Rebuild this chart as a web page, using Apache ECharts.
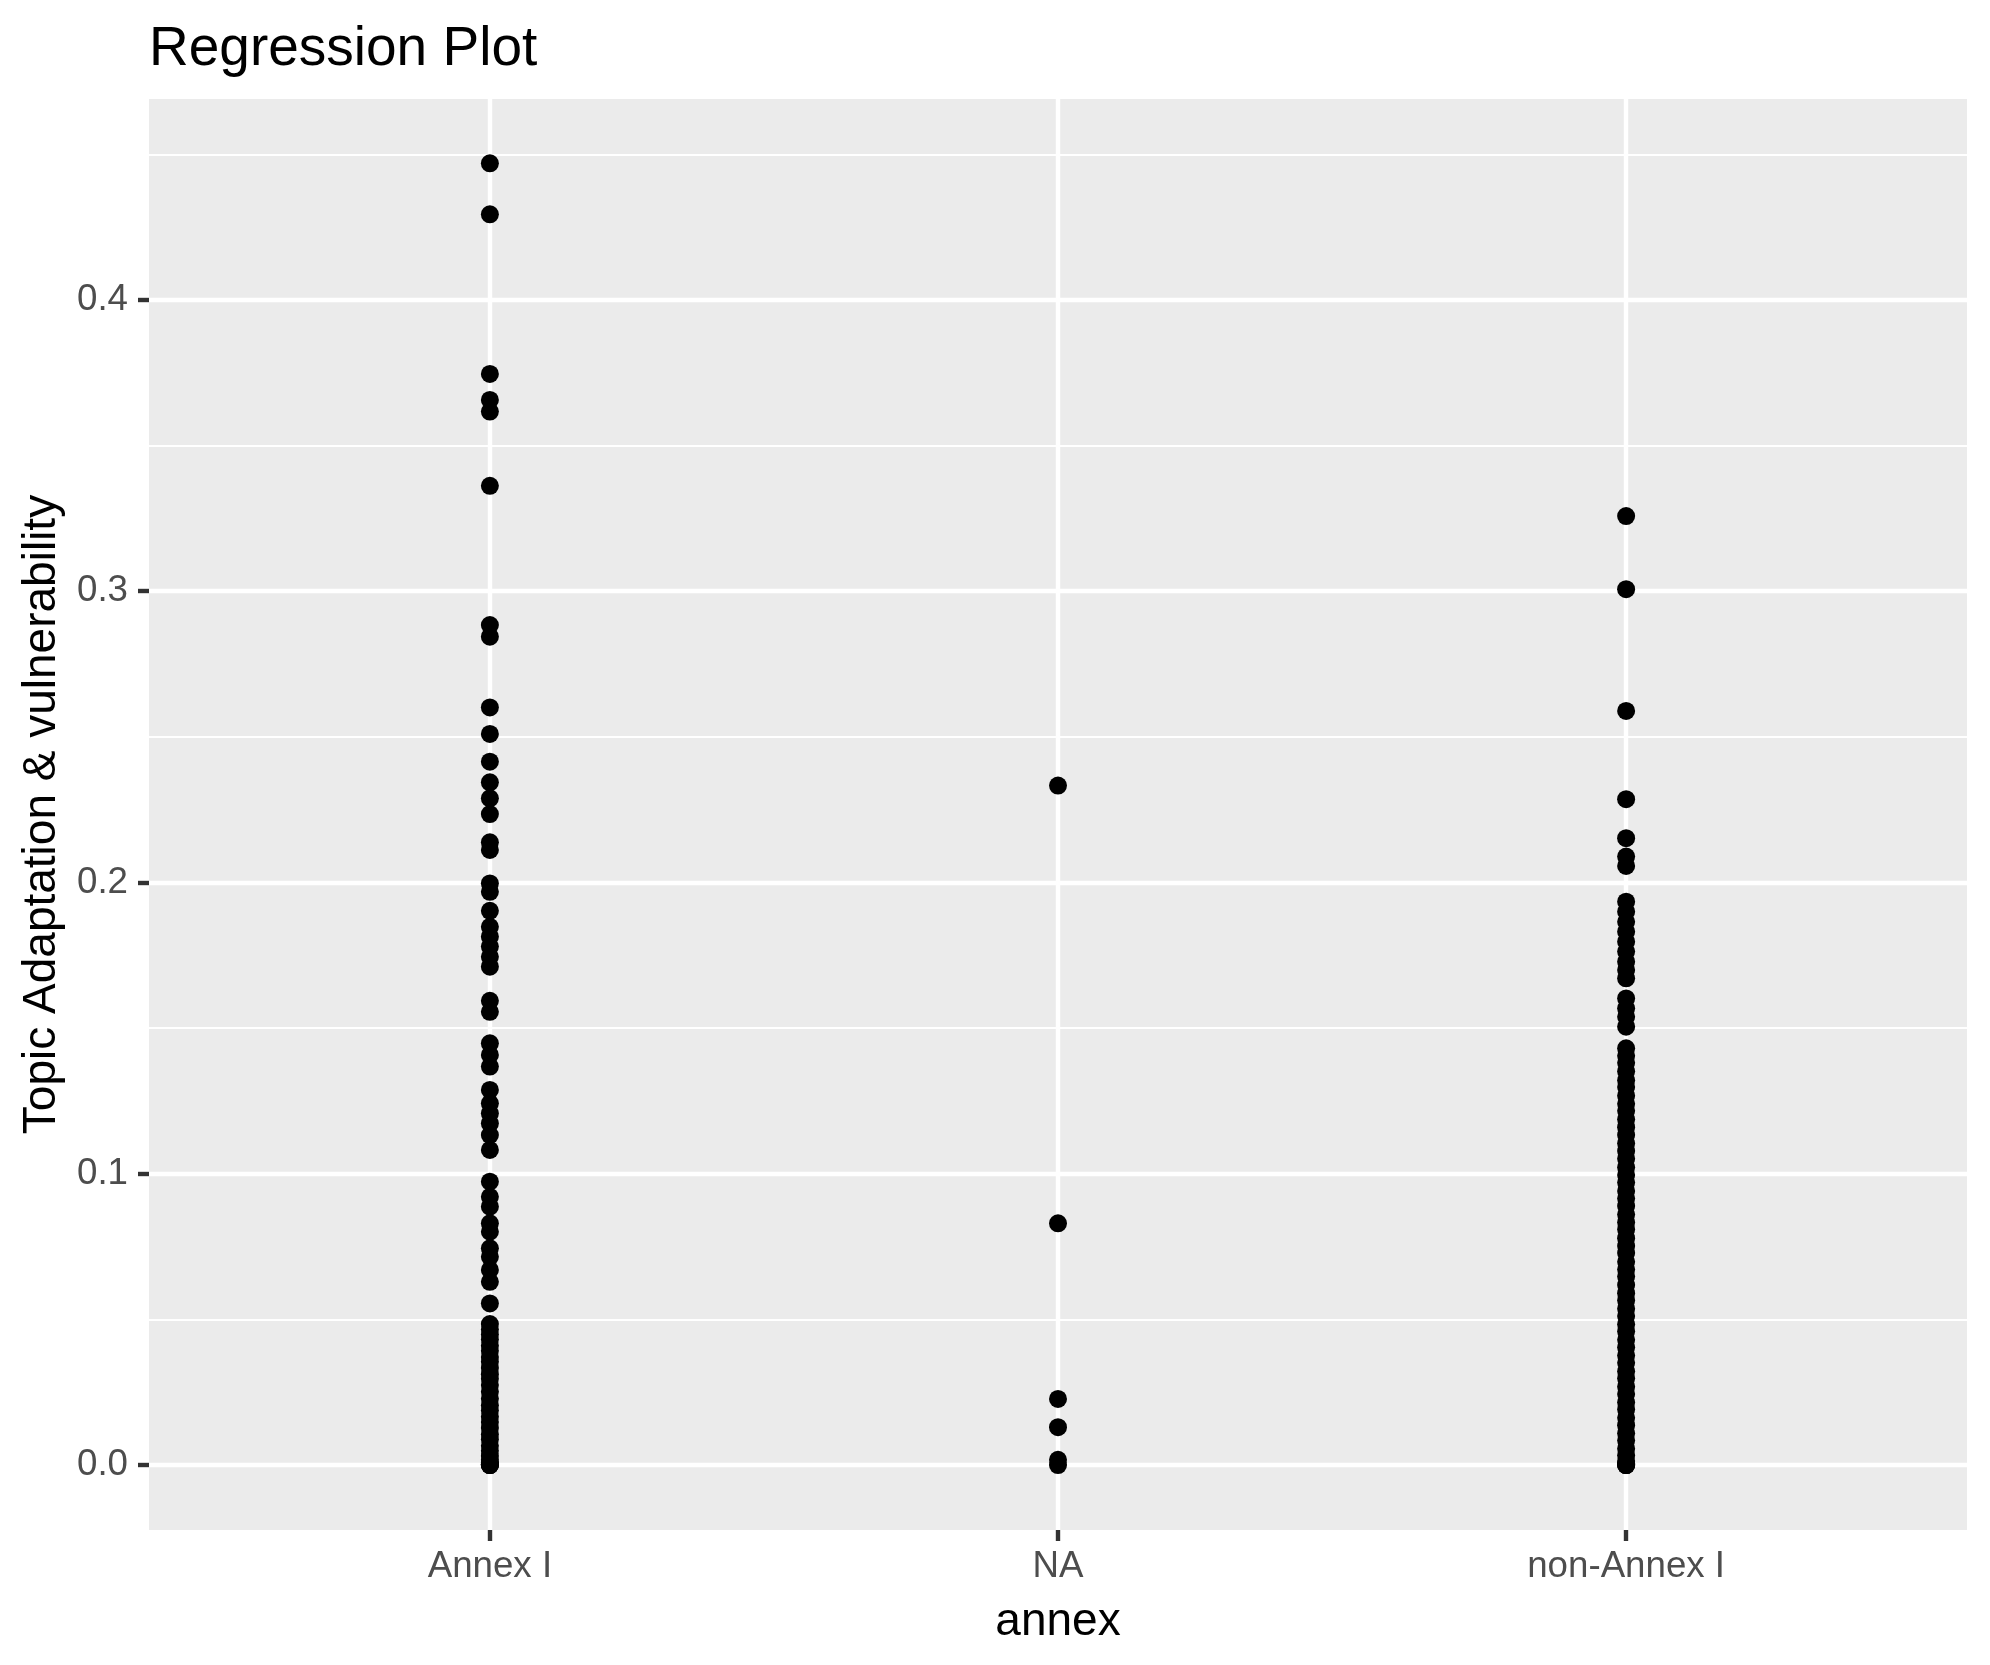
<!DOCTYPE html>
<html>
<head>
<meta charset="utf-8">
<script src="https://cdn.jsdelivr.net/npm/echarts@6/dist/echarts.min.js"></script>
<style>
html,body{margin:0;padding:0;background:#fff;}
#chart{width:1990px;height:1665px;}
</style>
</head>
<body>
<div id="chart"></div>
<script>
// ---- data ----
const categories = ['Annex I', 'NA', 'non-Annex I'];
const yTicks = [0, 0.1, 0.2, 0.3, 0.4];
const yMinorTicks = [0.05, 0.15, 0.25, 0.35, 0.45];
const annexI = [
  0.4469, 0.4294, 0.3746, 0.3657, 0.3617, 0.3362, 0.2884, 0.2844, 0.2601, 0.2510,
  0.2415, 0.2344, 0.2289, 0.2235, 0.2138, 0.2112, 0.1997, 0.1968, 0.1903, 0.1848,
  0.1814, 0.1780, 0.1745, 0.1711, 0.1594, 0.1556, 0.1448, 0.1408, 0.1368, 0.1288,
  0.1242, 0.1207, 0.1173, 0.1133, 0.1082, 0.0973, 0.0921, 0.0887, 0.0830, 0.0801,
  0.0744, 0.0715, 0.0670, 0.0629, 0.0555, 0.0484, 0.0465, 0.0448, 0.0431, 0.0410,
  0.0392, 0.0371, 0.0355, 0.0333, 0.0312, 0.0296, 0.0275, 0.0252, 0.0228, 0.0205,
  0.0187, 0.0166, 0.0148, 0.0127, 0.0105, 0.0088, 0.0066, 0.0049, 0.0031, 0.0018,
  0.0008, 0.0003, 0, 0, 0
];
const naValues = [0.2333, 0.0830, 0.0227, 0.0130, 0.0018, 0];
const nonAnnexI = [
  0.3258, 0.3007, 0.2589, 0.2286, 0.2152, 0.2089, 0.2057, 0.1934, 0.1900, 0.1865,
  0.1831, 0.1797, 0.1763, 0.1728, 0.1700, 0.1671, 0.1602, 0.1568, 0.1539, 0.1505,
  0.1431, 0.1405, 0.1381, 0.1352, 0.1321, 0.1298, 0.1268, 0.1240, 0.1216, 0.1187,
  0.1160, 0.1133, 0.1104, 0.1078, 0.1052, 0.1022, 0.0996, 0.0970, 0.0941, 0.0915,
  0.0889, 0.0860, 0.0833, 0.0809, 0.0779, 0.0752, 0.0728, 0.0698, 0.0671, 0.0647,
  0.0618, 0.0590, 0.0565, 0.0537, 0.0512, 0.0483, 0.0459, 0.0430, 0.0404, 0.0376,
  0.0351, 0.0322, 0.0298, 0.0269, 0.0244, 0.0215, 0.0191, 0.0162, 0.0137, 0.0109,
  0.0084, 0.0056, 0.0033, 0.0014, 0.0005, 0, 0, 0
];
const groups = [annexI, naValues, nonAnnexI];

const FONT = '"Liberation Sans", Arial, Helvetica, sans-serif';
const chart = echarts.init(document.getElementById('chart'), null, {renderer: 'canvas'});

const points = [];
groups.forEach((vals, i) => vals.forEach(v => points.push([i, v])));

const option = {
  animation: false,
  backgroundColor: '#ffffff',
  title: {
    text: 'Regression Plot',
    left: 149,
    top: 22,
    padding: 0,
    textStyle: {fontFamily: FONT, fontSize: 55, fontWeight: 'normal', color: '#000000'}
  },
  grid: {
    left: 149, right: 23, top: 99, bottom: 135,
    show: true, backgroundColor: '#EBEBEB', borderWidth: 0,
    containLabel: false
  },
  xAxis: {
    type: 'value',
    min: -0.6, max: 2.6,
    position: 'bottom',
    name: 'annex',
    nameLocation: 'middle',
    nameGap: 69,
    nameTextStyle: {fontFamily: FONT, fontSize: 46, color: '#000000'},
    axisLine: {show: false, onZero: false},
    axisTick: {show: true, customValues: [0, 1, 2], length: 11, lineStyle: {color: '#333333', width: 4.4}},
    axisLabel: {
      customValues: [0, 1, 2],
      margin: 18,
      fontFamily: FONT, fontSize: 36.7, color: '#4D4D4D',
      formatter: v => categories[Math.round(v)]
    },
    splitLine: {show: true, lineStyle: {color: '#FFFFFF', width: 4.4}}
  },
  yAxis: [{
    type: 'value',
    min: -0.0223, max: 0.469,
    position: 'left',
    name: 'Topic Adaptation & vulnerability',
    nameLocation: 'middle',
    nameGap: 84,
    nameRotate: 90,
    nameTextStyle: {fontFamily: FONT, fontSize: 46, color: '#000000'},
    axisLine: {show: false, onZero: false},
    axisTick: {show: true, customValues: yTicks, length: 11, lineStyle: {color: '#333333', width: 4.4}},
    axisLabel: {
      customValues: yTicks,
      margin: 21,
      fontFamily: FONT, fontSize: 36.7, color: '#4D4D4D',
      formatter: v => v.toFixed(1)
    },
    splitLine: {show: true, lineStyle: {color: '#FFFFFF', width: 4.4}}
  }, {
    type: 'value',
    min: -0.0223, max: 0.469,
    position: 'left',
    axisLine: {show: false, onZero: false},
    axisTick: {show: false, customValues: yMinorTicks},
    axisLabel: {show: false, customValues: yMinorTicks},
    splitLine: {show: true, lineStyle: {color: '#FFFFFF', width: 2.2}}
  }],
  series: [{
    type: 'scatter',
    xAxisIndex: 0,
    yAxisIndex: 0,
    data: points,
    symbol: 'circle',
    symbolSize: 18,
    itemStyle: {color: '#000000', opacity: 1},
    emphasis: {disabled: true},
    z: 5
  }]
};
chart.setOption(option);
</script>
</body>
</html>
